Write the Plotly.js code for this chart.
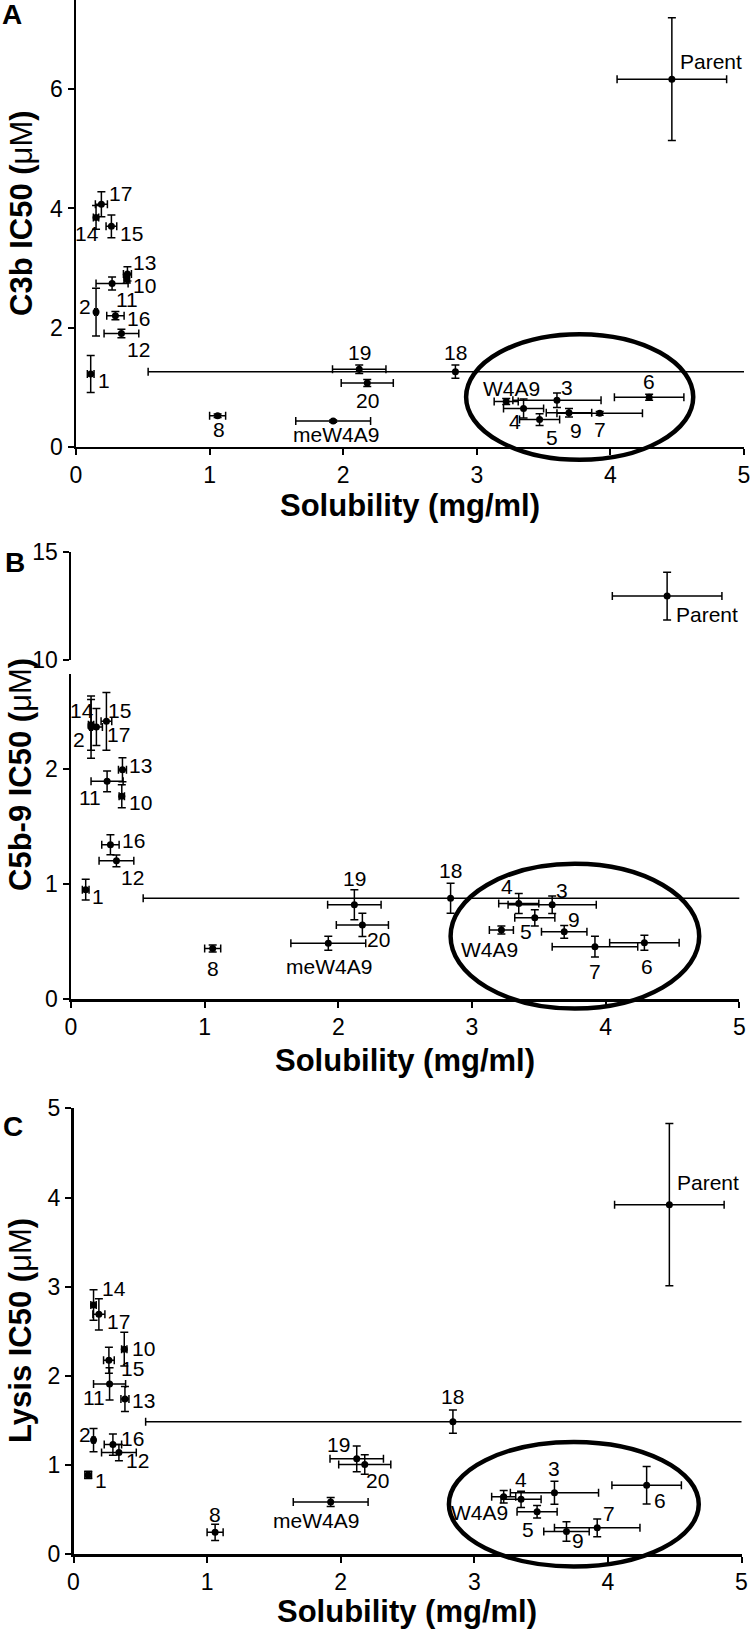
<!DOCTYPE html>
<html>
<head>
<meta charset="utf-8">
<script src="https://cdn.plot.ly/plotly-3.0.1.min.js"></script>
<style>
  body { margin: 0; background: #fff; }
  #chart { width: 751px; height: 1633px; }
</style>
</head>
<body>
<div id="chart"></div>
<script>
// compounds: 1..20, W4A9, meW4A9, Parent
var names = ['1','2','3','4','5','6','7','8','9','10','11','12','13','14','15','16','17','18','19','20','W4A9','meW4A9','Parent'];

// solubility (mg/ml) and its error
var solub    = [0.11, 0.15, 3.60, 3.35, 3.47, 4.29, 3.92, 1.06, 3.69, 0.38, 0.27, 0.34, 0.385, 0.15, 0.265, 0.295, 0.19, 2.84, 2.12, 2.18, 3.22, 1.925, 4.46];
var solubErr = [0.025, 0.01, 0.33, 0.15, 0.15, 0.26, 0.32, 0.06, 0.17, 0.02, 0.12, 0.13, 0.03, 0.02, 0.04, 0.065, 0.045, 2.30, 0.20, 0.195, 0.09, 0.28, 0.41];

// A: C3b IC50 (uM)
var c3b    = [1.22, 2.26, 0.78, 0.64, 0.455, 0.83, 0.56, 0.52, 0.57, 2.82, 2.74, 1.90, 2.90, 3.85, 3.70, 2.20, 4.07, 1.26, 1.30, 1.07, 0.76, 0.43, 6.17];
var c3bErr = [0.31, 0.40, 0.12, 0.16, 0.10, 0.05, 0.03, 0.03, 0.07, 0.07, 0.11, 0.07, 0.12, 0.20, 0.19, 0.07, 0.21, 0.11, 0.07, 0.06, 0.05, 0.02, 1.03];

// B: C5b-9 IC50 (uM)
var c5b9    = [0.95, 2.36, 0.82, 0.83, 0.706, 0.49, 0.456, 0.44, 0.585, 1.76, 1.89, 1.20, 1.99, 2.38, 2.41, 1.34, 2.36, 0.875, 0.82, 0.645, 0.60, 0.486, 12.95];
var c5b9Err = [0.09, 0.27, 0.076, 0.087, 0.07, 0.065, 0.09, 0.03, 0.055, 0.10, 0.09, 0.05, 0.105, 0.22, 0.25, 0.087, 0.16, 0.13, 0.13, 0.10, 0.035, 0.06, 1.10];

// C: Lysis IC50 (uM)
var lysis    = [0.89, 1.28, 0.69, 0.616, 0.476, 0.773, 0.297, 0.246, 0.255, 2.30, 1.91, 1.14, 1.74, 2.795, 2.175, 1.23, 2.69, 1.487, 1.07, 1.007, 0.646, 0.586, 3.92];
var lysisErr = [0.04, 0.13, 0.13, 0.09, 0.07, 0.21, 0.10, 0.09, 0.11, 0.19, 0.18, 0.09, 0.14, 0.17, 0.145, 0.12, 0.175, 0.13, 0.145, 0.11, 0.07, 0.05, 0.91];

// label offsets in px [dx, dy(up)] per compound, per panel
var offA = [[13,-6],[-11,6],[10,13],[-9,-13],[12,-18],[0,16],[0,-16],[1,-14],[7,-18],[18,-7],[15,-16],[17,-16],[17,11],[-9,-16],[20,-7],[23,-3],[19,11],[0,19],[0,17],[0,-18],[5,13],[3,-13],[39,18]];
var offB = [[12,-7],[-12,-12],[10,14],[-12,17],[-9,-14],[3,-24],[0,-25],[0,-20],[10,12],[19,-6],[-17,-16],[16,-17],[18,4],[-9,14],[13,11],[23,4],[22,-7],[0,28],[0,26],[16,-15],[-12,-19],[1,-23],[40,-18]];
var offC = [[13,-6],[-9,6],[0,24],[0,20],[-9,-18],[13,-15],[12,14],[0,18],[12,-9],[19,1],[-16,-14],[19,-8],[19,-1],[20,16],[24,-8],[20,6],[20,-7],[0,25],[-18,14],[13,-16],[-24,-16],[-15,-18],[39,22]];

var W = 751, H = 1633;
function px(v) { return v / W; }
function py(v) { return 1 - v / H; }

var font = 'Liberation Sans, Arial, sans-serif';

function pts(xa, ya, yv, ye, idx) {
  return {
    type: 'scatter', mode: 'markers',
    x: idx.map(function (i) { return solub[i]; }),
    y: idx.map(function (i) { return yv[i]; }),
    xaxis: xa, yaxis: ya,
    marker: { color: 'black', size: 7 },
    error_x: { type: 'data', array: idx.map(function (i) { return solubErr[i]; }), color: 'black', thickness: 1.5, width: 4 },
    error_y: { type: 'data', array: idx.map(function (i) { return ye[i]; }), color: 'black', thickness: 1.5, width: 4 },
    hoverinfo: 'skip', showlegend: false
  };
}

var all = names.map(function (n, i) { return i; });
var lowB = all.filter(function (i) { return c5b9[i] < 10; });
var upB = all.filter(function (i) { return c5b9[i] >= 10; });

var data = [
  pts('x', 'y', c3b, c3bErr, all),
  pts('x2', 'y3', c5b9, c5b9Err, lowB),
  pts('x2', 'y2', c5b9, c5b9Err, upB),
  pts('x3', 'y4', lysis, lysisErr, all)
];

var ax = {
  showline: true, linecolor: 'black', linewidth: 2.5,
  ticks: 'outside', ticklen: 6, tickwidth: 2, tickcolor: 'black',
  showgrid: false, zeroline: false, fixedrange: true,
  tickfont: { family: font, size: 23, color: 'black' }
};
function axis(extra) { return Object.assign({}, ax, extra); }

var xticks = [0, 1, 2, 3, 4, 5];
var lowTop = 2.82; // lower segment of the broken C5b-9 axis

var layout = {
  width: W, height: H,
  margin: { l: 0, r: 0, t: 0, b: 0 },
  paper_bgcolor: 'white', plot_bgcolor: 'white',
  font: { family: font, color: 'black' },
  showlegend: false,
  xaxis:  axis({ domain: [px(76), px(744)], range: [0, 5], anchor: 'y', tickvals: xticks }),
  yaxis:  axis({ domain: [py(446.7), 1], range: [0, 7.5], anchor: 'x', tickvals: [0, 2, 4, 6] }),
  xaxis2: axis({ domain: [px(71), px(739.3)], range: [0, 5], anchor: 'y3', tickvals: xticks }),
  yaxis2: axis({ domain: [py(660), py(551.7)], range: [10, 15], anchor: 'x2', tickvals: [10, 15] }),
  yaxis3: axis({ domain: [py(999.3), py(674)], range: [0, lowTop], anchor: 'x2', tickvals: [0, 1, 2] }),
  xaxis3: axis({ domain: [px(73.5), px(741.5)], range: [0, 5], anchor: 'y4', tickvals: xticks }),
  yaxis4: axis({ domain: [py(1554.3), py(1108.3)], range: [0, 5], anchor: 'x3', tickvals: [0, 1, 2, 3, 4, 5] }),
  shapes: [],
  annotations: []
};

// circled group of compounds (ellipse bounds in data units)
function ellipse(xa, ya, yr, x0, x1, y0, y1) {
  layout.shapes.push({
    type: 'circle', xref: xa + ' domain', yref: ya + ' domain',
    x0: x0 / 5, x1: x1 / 5, y0: y0 / yr, y1: y1 / yr,
    line: { color: 'black', width: 4.5 }
  });
}
ellipse('x', 'y', 7.5, 2.92, 4.62, -0.22, 1.89);
ellipse('x2', 'y3', lowTop, 2.84, 4.70, -0.08, 1.175);
ellipse('x3', 'y4', 5, 2.81, 4.68, -0.136, 1.26);

function labels(xa, ya, yv, off, idx) {
  idx.forEach(function (i) {
    layout.annotations.push({
      xref: xa, yref: ya, x: solub[i], y: yv[i], text: names[i],
      showarrow: false, xshift: off[i][0], yshift: off[i][1],
      font: { family: font, size: 21, color: 'black' }
    });
  });
}
labels('x', 'y', c3b, offA, all);
labels('x2', 'y3', c5b9, offB, lowB);
labels('x2', 'y2', c5b9, offB, upB);
labels('x3', 'y4', lysis, offC, all);

function txt(x, y, s, size, angle) {
  layout.annotations.push({
    xref: 'paper', yref: 'paper', x: px(x), y: py(y), text: s,
    showarrow: false, textangle: angle || 0, xanchor: 'center', yanchor: 'middle',
    font: { family: font, size: size, color: 'black' }
  });
}
var xTitle = '<b>Solubility (mg/ml)</b>';
txt(410, 505, xTitle, 31);
txt(405, 1060, xTitle, 31);
txt(407, 1611, xTitle, 31);
txt(21, 213, '<b>C3b IC50 (</b>μM<b>)</b>', 31, -90);
txt(20, 775, '<b>C5b-9 IC50 (</b>μM<b>)</b>', 31, -90);
txt(20, 1331, '<b>Lysis IC50 (</b>μM<b>)</b>', 31, -90);
txt(12, 15, '<b>A</b>', 28);
txt(15, 562, '<b>B</b>', 28);
txt(13, 1126, '<b>C</b>', 28);

Plotly.newPlot('chart', data, layout, { staticPlot: true });
</script>
</body>
</html>
